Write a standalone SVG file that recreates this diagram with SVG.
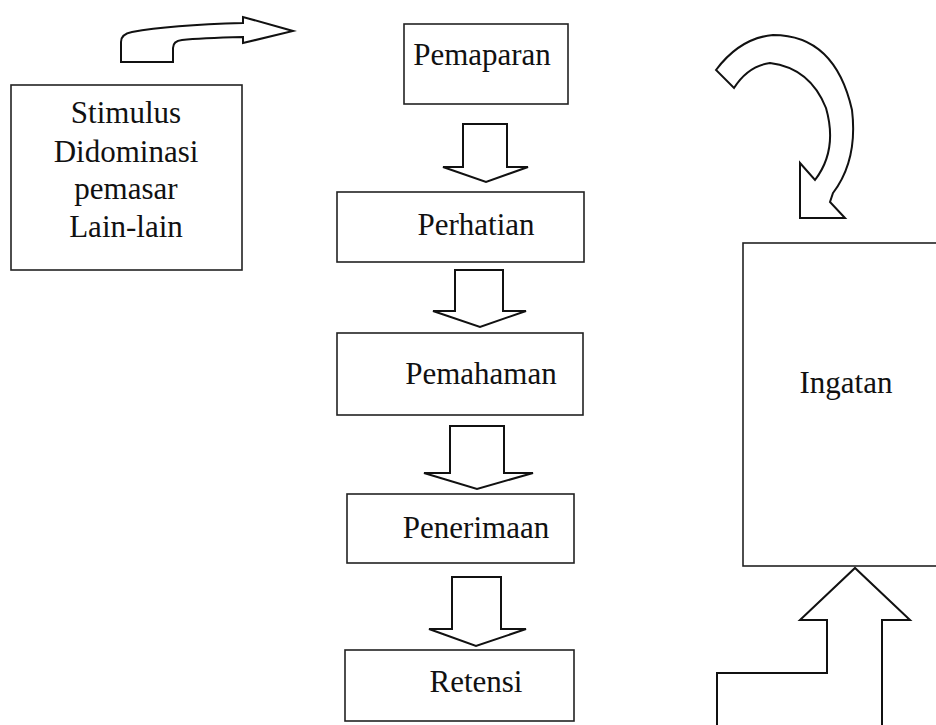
<svg xmlns="http://www.w3.org/2000/svg" width="936" height="725" viewBox="0 0 936 725">
<style>
.box{fill:#fff;stroke:#222;stroke-width:1.6}
.arr{fill:#fff;stroke:#111;stroke-width:2;stroke-linejoin:miter}
.t{font-family:"Liberation Serif","Times New Roman",serif;font-size:31px;fill:#111;text-anchor:middle}
</style>
<rect width="936" height="725" fill="#fff"/>
<g id="connectors">
<path class="arr" d="M121,62 L121,42 Q121,34 132,32 Q170,25 243,23 L243,17 L293,31 L243,43 L243,37 Q200,38 182,40 Q173,41 173,48 L173,62 Z"/>
<path class="arr" d="M716,70 Q740,38 773,35 Q835,35 852,110 Q858,160 833,193 L830,202 L845,218 L800,218 L800,163 L815,180 Q838,150 826,108 Q810,68 770,63 Q748,66 734,88 Z"/>
<path class="arr" d="M463,124 L507,124 L507,167 L528,167 L486,182 L443,167 L463,167 Z"/>
<path class="arr" d="M455,270 L503,270 L503,311 L526,311 L480,327 L433,311 L455,311 Z"/>
<path class="arr" d="M450,426 L504,426 L504,473 L533,473 L477,489 L424,473 L450,473 Z"/>
<path class="arr" d="M452,577 L501,577 L501,629 L526,629 L476,646 L429,629 L452,629 Z"/>
<path class="arr" d="M717,728 L717,673 L827,673 L827,620 L800,620 L855,568 L910,620 L882,620 L882,728"/>
</g>
<g id="stimulus">
<rect class="box" x="11" y="85" width="231" height="185"/>
<text class="t" x="126" y="123">Stimulus</text>
<text class="t" x="126" y="162">Didominasi</text>
<text class="t" x="126" y="199">pemasar</text>
<text class="t" x="126" y="237">Lain-lain</text>
</g>
<g id="pemaparan">
<rect class="box" x="404" y="24" width="164" height="80"/>
<text class="t" x="482" y="65">Pemaparan</text>
</g>
<g id="perhatian">
<rect class="box" x="337" y="192" width="247" height="70"/>
<text class="t" x="476" y="235">Perhatian</text>
</g>
<g id="pemahaman">
<rect class="box" x="337" y="333" width="246" height="82"/>
<text class="t" x="481" y="384">Pemahaman</text>
</g>
<g id="penerimaan">
<rect class="box" x="347" y="494" width="227" height="69"/>
<text class="t" x="476" y="538">Penerimaan</text>
</g>
<g id="retensi">
<rect class="box" x="345" y="650" width="229" height="71"/>
<text class="t" x="476" y="692">Retensi</text>
</g>
<g id="ingatan">
<rect class="box" x="743" y="243" width="200" height="323"/>
<text class="t" x="846" y="393">Ingatan</text>
</g>
</svg>
